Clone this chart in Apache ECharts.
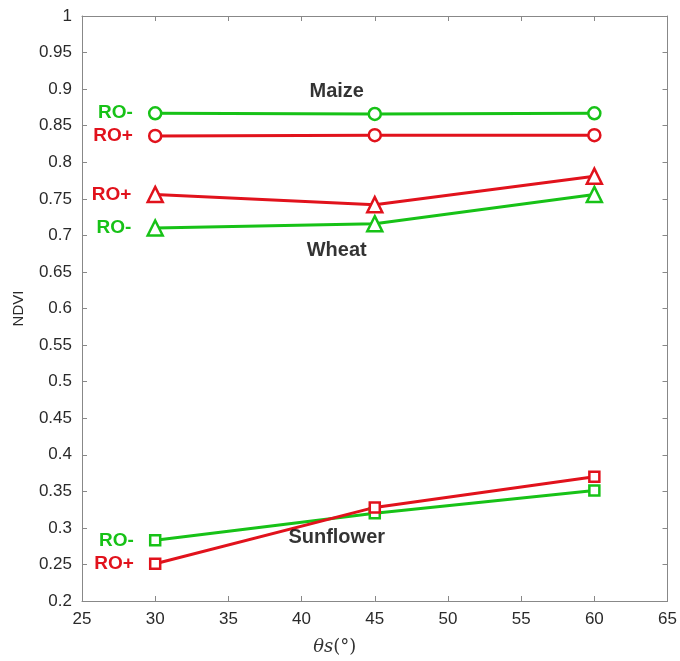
<!DOCTYPE html>
<html>
<head>
<meta charset="utf-8">
<script src="https://cdn.jsdelivr.net/npm/echarts@6/dist/echarts.min.js"></script>
<style>
html, body { margin: 0; padding: 0; background: #fff; }
#chart { width: 680px; height: 661px; }
</style>
</head>
<body>
<div id="chart"></div>
<script>
// solar zenith angles
var angles = [30, 45, 60];

var maizeMinus = [0.867, 0.866, 0.867];
var maizePlus = [0.836, 0.837, 0.837];
var wheatPlus = [0.756, 0.742, 0.781];
var wheatMinus = [0.710, 0.716, 0.756];
var sunMinus = [0.283, 0.320, 0.351];
var sunPlus = [0.251, 0.328, 0.370];

// crop name labels [x, y, text]
var cropLabels = [
    [42.4, 0.897, 'Maize'],
    [42.4, 0.679, 'Wheat'],
    [42.4, 0.287, 'Sunflower']
];

var green = '#17c217';
var red = '#e1121c';
var font = 'Liberation Sans, Arial, sans-serif';

function pairs(vals) {
    return angles.map(function (a, i) { return [a, vals[i]]; });
}

function makeSeries(name, vals, color, symbol, size) {
    var d = pairs(vals);
    d[0] = {
        value: d[0],
        label: {
            show: true,
            position: 'left',
            distance: 15,
            formatter: name,
            color: color,
            fontFamily: font,
            fontWeight: 'bold',
            fontSize: 19
        }
    };
    return {
        name: name,
        type: 'line',
        data: d,
        symbol: symbol,
        symbolSize: size,
        showAllSymbol: true,
        lineStyle: { color: color, width: 3 },
        itemStyle: { color: '#fff', borderColor: color, borderWidth: 2.5 },
        emphasis: { disabled: true },
        z: 3
    };
}

var myChart = echarts.init(document.getElementById('chart'));

var tickStyle = { show: true, inside: true, length: 5, lineStyle: { color: '#888' } };
var lineStyle = { show: true, lineStyle: { color: '#888', width: 1 } };

var option = {
    animation: false,
    grid: { left: 82, right: 11, top: 16, bottom: 57 },
    xAxis: [{
        type: 'value',
        min: 25, max: 65, interval: 5,
        axisLine: lineStyle,
        axisTick: tickStyle,
        splitLine: { show: false },
        axisLabel: { color: '#2a2a2a', fontSize: 17, fontFamily: font, margin: 10 },
        name: '{i|θs}(°)',
        nameLocation: 'middle',
        nameGap: 37,
        nameTextStyle: {
            color: '#333', fontSize: 18, fontFamily: 'DejaVu Serif, serif',
            padding: [0, 80, 0, 0],
            rich: { i: { fontStyle: 'italic', fontSize: 18, fontFamily: 'DejaVu Serif, serif', color: '#333' } }
        }
    }, {
        type: 'value',
        position: 'top',
        min: 25, max: 65, interval: 5,
        axisLine: lineStyle,
        axisTick: tickStyle,
        axisLabel: { show: false },
        splitLine: { show: false }
    }],
    yAxis: [{
        type: 'value',
        min: 0.2, max: 1, interval: 0.05,
        axisLine: lineStyle,
        axisTick: tickStyle,
        splitLine: { show: false },
        axisLabel: { color: '#2a2a2a', fontSize: 17, fontFamily: font, margin: 10 },
        name: 'NDVI',
        nameLocation: 'middle',
        nameGap: 56,
        nameTextStyle: { color: '#2a2a2a', fontSize: 15, fontFamily: font }
    }, {
        type: 'value',
        position: 'right',
        min: 0.2, max: 1, interval: 0.05,
        axisLine: lineStyle,
        axisTick: tickStyle,
        axisLabel: { show: false },
        splitLine: { show: false }
    }],
    series: [
        makeSeries('RO-', maizeMinus, green, 'circle', 12),
        makeSeries('RO+', maizePlus, red, 'circle', 12),
        makeSeries('RO+', wheatPlus, red, 'triangle', 15),
        makeSeries('RO-', wheatMinus, green, 'triangle', 15),
        makeSeries('RO-', sunMinus, green, 'rect', 10),
        makeSeries('RO+', sunPlus, red, 'rect', 10),
        {
            type: 'scatter',
            symbolSize: 0,
            data: cropLabels,
            silent: true,
            label: {
                show: true,
                position: 'inside',
                formatter: function (p) { return p.value[2]; },
                color: '#000',
                textBorderWidth: 0,
                fontFamily: font,
                fontWeight: 'bold',
                fontSize: 20
            },
            z: 5
        }
    ]
};

myChart.setOption(option);
</script>
</body>
</html>
